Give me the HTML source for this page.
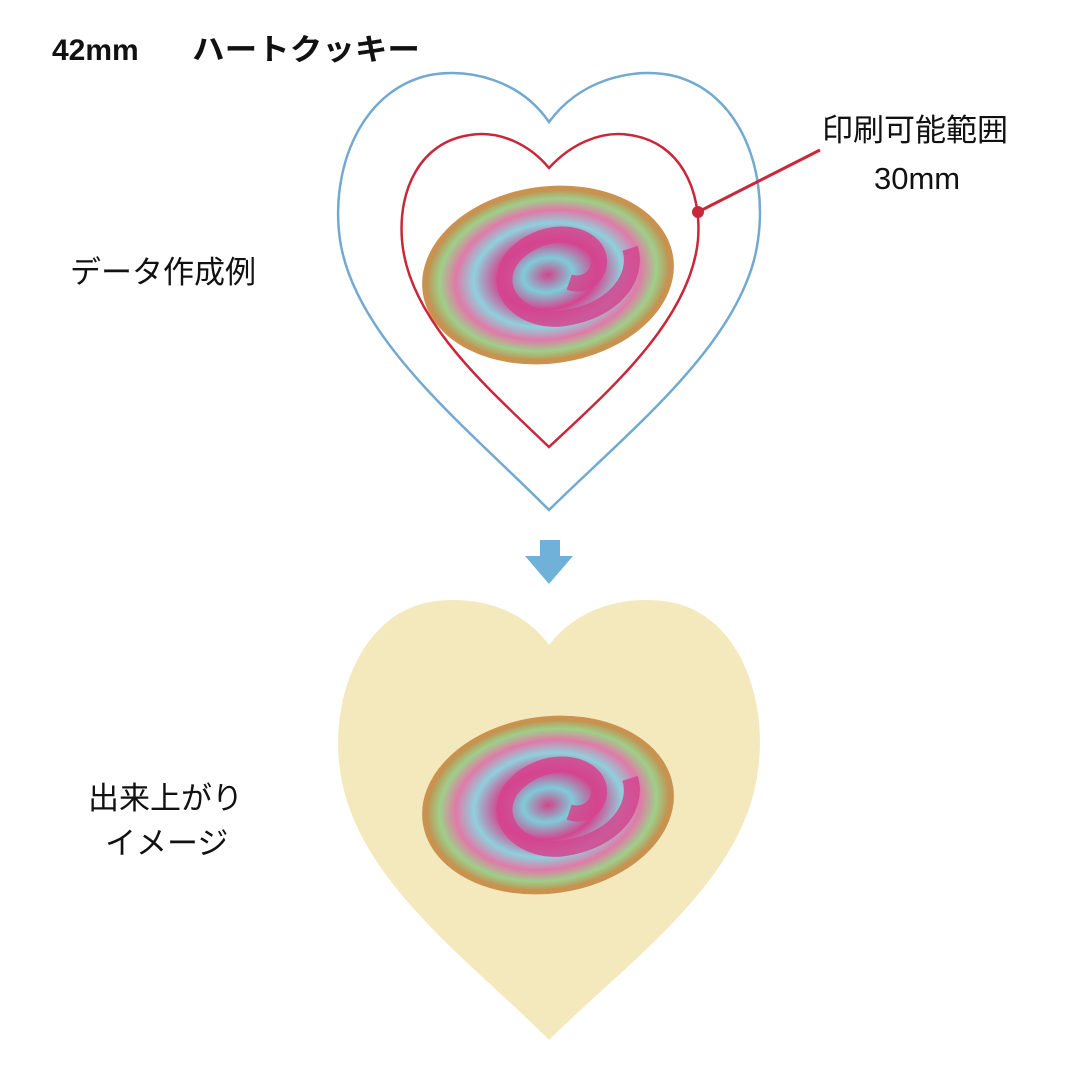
<!DOCTYPE html>
<html><head><meta charset="utf-8"><style>
body{margin:0;background:#fff;}
svg{display:block}
text{font-family:"Liberation Sans","Noto Sans CJK JP",sans-serif;fill:#111}
</style></head><body>
<svg width="1080" height="1080" viewBox="0 0 1080 1080">
<defs>
<radialGradient id="ck" cx="50%" cy="50%" r="50%">
<stop offset="0" stop-color="#d0458a"/>
<stop offset="0.2" stop-color="#7fcbd8"/>
<stop offset="0.4" stop-color="#d5448e"/>
<stop offset="0.6" stop-color="#8fd0dc"/>
<stop offset="0.75" stop-color="#e07aa8"/>
<stop offset="0.88" stop-color="#9fcf8a"/>
<stop offset="1" stop-color="#c58a4a"/>
</radialGradient>
<g id="cookie">
<g transform="rotate(-8)">
<ellipse cx="0" cy="0" rx="124" ry="86" fill="url(#ck)"/>
<path d="M20,10 C40,20 60,0 50,-20 C35,-45 -10,-45 -35,-20 C-60,10 -30,45 10,45 C60,45 90,15 85,-15" fill="none" stroke="#d5448e" stroke-width="16" opacity="0.85"/>
<ellipse cx="0" cy="0" rx="124" ry="86" fill="none" stroke="#c9924f" stroke-width="5"/>
</g>
</g>
</defs>
<text x="52" y="60" font-size="30" font-weight="bold">42mm</text>
<text x="192" y="60" font-size="30" font-weight="bold" textLength="228" lengthAdjust="spacingAndGlyphs">ハートクッキー</text>
<path d="M549,122 C520,80 470,68 430,75 C360,90 330,170 340,240 C355,340 470,430 549,510 C630,430 745,340 758,240 C768,170 740,90 670,75 C630,68 580,80 549,122 Z" fill="none" stroke="#72a9d0" stroke-width="2.5"/>
<path d="M549,168 C530,145 500,130 470,135 C420,142 398,190 402,240 C408,320 490,390 549,447 C610,390 690,320 698,240 C702,190 680,142 630,135 C600,130 570,145 549,168Z" fill="none" stroke="#c8283a" stroke-width="2.5"/>
<use href="#cookie" x="548" y="275"/>
<line x1="698" y1="212" x2="820" y2="150" stroke="#c8283a" stroke-width="3"/>
<circle cx="698" cy="212" r="6" fill="#c8283a"/>
<text x="822" y="141" font-size="31">印刷可能範囲</text>
<text x="874" y="189" font-size="31">30mm</text>
<text x="70" y="283" font-size="31">データ作成例</text>
<path d="M540,540 H560 V556 H573 L549,584 L525,556 H540 Z" fill="#6fb1d8"/>
<path d="M549,645 C520,605 470,595 430,602 C360,615 330,700 340,770 C355,880 470,960 549,1040 C630,960 745,880 758,770 C768,700 740,615 670,602 C630,595 580,605 549,645 Z" fill="#f3e9bc"/>
<use href="#cookie" x="548" y="805"/>
<text x="88" y="809" font-size="31">出来上がり</text>
<text x="105" y="854" font-size="31">イメージ</text>
</svg>
</body></html>
